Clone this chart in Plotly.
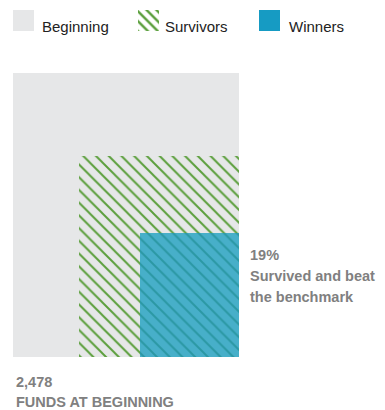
import plotly.graph_objects as go
import math

# ---- data ----
categories = ["Beginning", "Survivors", "Winners"]
shares_pct = [100, 50, 19]          # share of funds at beginning (area)
funds_at_beginning = 2478
winners_label = "Survived and beat"
winners_label2 = "the benchmark"
beginning_label = "FUNDS AT BEGINNING"

# ---- styles ----
GRAY = "#e6e7e8"
GREEN = "#5b9f3c"
BLUE = "#47afc9"
BLUE_LINE = "#2b98a4"
BLUE_LEGEND = "#169bc3"
TEXT_GRAY = "#808080"
OFF = 8                      # page body margin
W, H = 385 - OFF, 410 - OFF


def px(v):
    return v - OFF


fig = go.Figure()

styles = [
    dict(color=GRAY, pattern=None),
    dict(color=GRAY, pattern=dict(shape="\\", fgcolor=GREEN, bgcolor=GRAY, size=9, solidity=0.22, fillmode="replace")),
    dict(color=BLUE, pattern=dict(shape="\\", fgcolor=BLUE_LINE, bgcolor=BLUE, size=9, solidity=0.22, fillmode="replace")),
]

for name, pct, st in zip(categories, shares_pct, styles):
    side = math.sqrt(pct / 100)
    marker = dict(color=st["color"], line=dict(width=0))
    if st["pattern"]:
        marker["pattern"] = st["pattern"]
    fig.add_trace(go.Bar(
        x=[1 - side / 2], y=[side], base=[0], width=[side],
        marker=marker, name=name, showlegend=False, hoverinfo="skip",
        xaxis="x", yaxis="y",
    ))

# ---- manual legend (swatches on a pixel-scaled helper axis) ----
legend_x = [px(23.5), px(148), px(269)]
legend_text_x = [px(40), px(163), px(287)]
legend_styles = [
    dict(color=GRAY, line=dict(width=0)),
    dict(color="#ffffff", line=dict(width=0),
         pattern=dict(shape="\\", fgcolor=GREEN, bgcolor="#ffffff", size=7, solidity=0.35, fillmode="replace")),
    dict(color=BLUE_LEGEND, line=dict(width=0)),
]
for name, cx, ms in zip(categories, legend_x, legend_styles):
    fig.add_trace(go.Bar(
        x=[cx], y=[1], base=[0], width=[21], marker=ms, name=name,
        showlegend=False, hoverinfo="skip", xaxis="x2", yaxis="y2",
    ))

annotations = []
for name, tx in zip(categories, legend_text_x):
    annotations.append(dict(
        text=name, xref="paper", yref="paper", x=tx / W, y=1 - px(27) / H,
        xanchor="left", yanchor="middle", showarrow=False,
        font=dict(family="Liberation Sans, Arial", size=15, color="#222222"),
    ))

bold = dict(family="Liberation Sans, Arial", size=14.5, color=TEXT_GRAY)
for txt, ypx in [(f"<b>{shares_pct[2]}%</b>", 255), (f"<b>{winners_label}</b>", 276), (f"<b>{winners_label2}</b>", 297)]:
    annotations.append(dict(text=txt, xref="paper", yref="paper", x=px(248) / W, y=1 - px(ypx) / H,
                            xanchor="left", yanchor="middle", showarrow=False, font=bold))
for txt, ypx in [(f"<b>{funds_at_beginning:,}</b>", 382), (f"<b>{beginning_label}</b>", 402)]:
    annotations.append(dict(text=txt, xref="paper", yref="paper", x=px(14) / W, y=1 - px(ypx) / H,
                            xanchor="left", yanchor="middle", showarrow=False, font=bold))

hidden = dict(visible=False, fixedrange=True)
fig.update_layout(
    width=W, height=H,
    margin=dict(l=0, r=0, t=0, b=0),
    paper_bgcolor="white", plot_bgcolor="rgba(0,0,0,0)",
    barmode="overlay", bargap=0,
    showlegend=False,
    xaxis=dict(domain=[px(13) / W, px(239) / W], range=[0, 1], **hidden),
    yaxis=dict(domain=[1 - px(357) / H, 1 - px(73) / H], range=[0, 1], **hidden),
    xaxis2=dict(domain=[0, 1], range=[0, W], anchor="y2", **hidden),
    yaxis2=dict(domain=[1 - px(31) / H, 1 - px(10) / H], range=[0, 1], anchor="x2", **hidden),
    annotations=annotations,
)

fig.write_html("out.html")
